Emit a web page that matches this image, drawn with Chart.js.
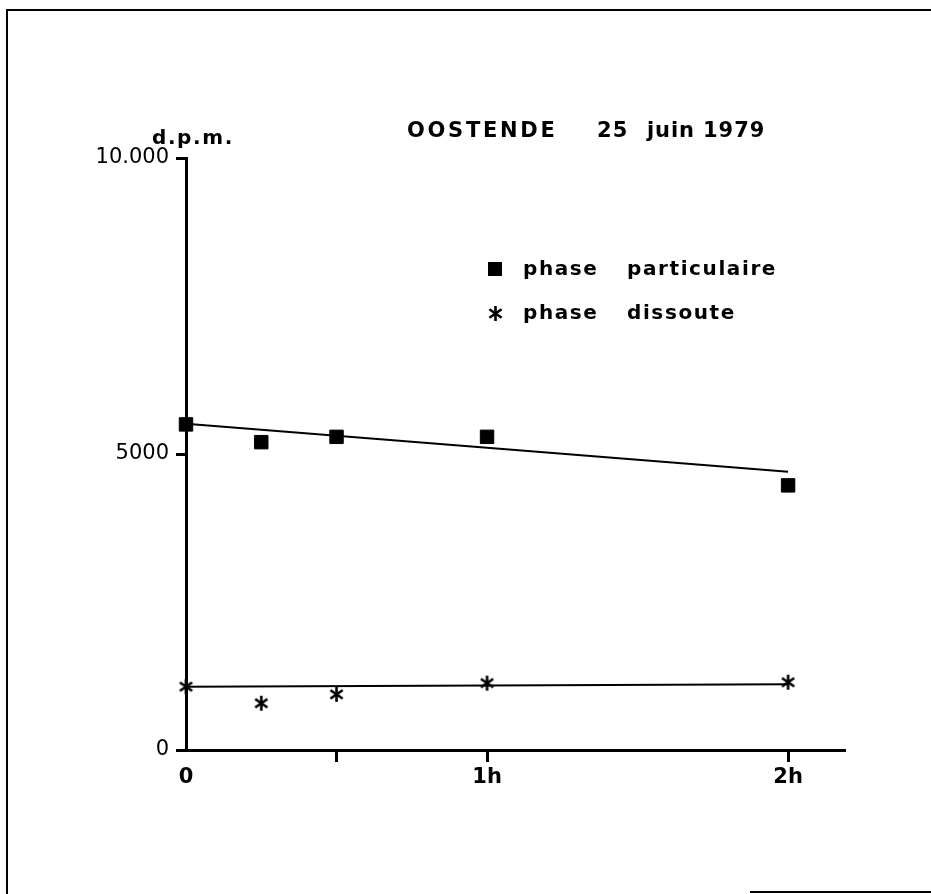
<!DOCTYPE html>
<html lang="fr">
<head>
<meta charset="utf-8">
<title>OOSTENDE 25 juin 1979</title>
<script src="https://cdn.jsdelivr.net/npm/chart.js@4.4.1/dist/chart.umd.min.js"></script>
<style>
  html, body { margin: 0; padding: 0; background: #fff; }
  #wrap { position: relative; width: 931px; height: 894px; overflow: hidden; }
  #chart { position: absolute; left: 0; top: 0; }
  .txt {
    position: absolute; white-space: pre; line-height: 1;
    font-family: "DejaVu Sans", sans-serif; font-weight: bold; color: #000;
  }
  .title  { font-size: 21px; top: 120px; }
  .unit   { font-size: 20px; letter-spacing: 1.6px; top: 127px; left: 152px; }
  .leg    { font-size: 20px; letter-spacing: 1.6px; }
  .frame  { position: absolute; background: #000; }
  .swatch { position: absolute; width: 14px; height: 14px; background: #000; }
</style>
</head>
<body>
<div id="wrap">
  <canvas id="chart" width="931" height="894"></canvas>

  <!-- frame of the scanned figure -->
  <div class="frame" style="left:6px; top:9px; width:2px; height:885px;"></div>
  <div class="frame" style="left:6px; top:9px; width:925px; height:2px;"></div>
  <div class="frame" style="left:750px; top:891px; width:181px; height:2px;"></div>

  <div class="txt title" style="left:407px; letter-spacing:2.7px;">OOSTENDE</div>
  <div class="txt title" style="left:597px; letter-spacing:1.2px;">25</div>
  <div class="txt title" style="left:647px; letter-spacing:0.9px;">juin 1979</div>
  <div class="txt unit">d.p.m.</div>

  <!-- legend -->
  <div class="swatch" style="left:488px; top:262px;"></div>
  <div class="txt leg" style="left:523px; top:258px;">phase</div>
  <div class="txt leg" style="left:627px; top:258px;">particulaire</div>
  <div id="legStar" style="position:absolute; left:487px; top:305px;"></div>
  <div class="txt leg" style="left:523px; top:302px;">phase</div>
  <div class="txt leg" style="left:627px; top:302px;">dissoute</div>
</div>

<script>
"use strict";

// ── Data ──────────────────────────────────────────────────
const hours          = [0, 0.25, 0.5, 1, 2];
const particulaire   = [5500, 5200, 5290, 5290, 4470];
const dissoute       = [1070, 790, 940, 1130, 1145];

const fitHours        = [0, 2];
const fitParticulaire = [5510, 4700];
const fitDissoute     = [1070, 1110];

const xTickValues = [0, 0.5, 1, 2];
const xTickLabels = ["0", "", "1h", "2h"];
const yTickValues = [0, 5000, 10000];
const yTickLabels = ["0", "5000", "10.000"];

const pts = (xs, ys) => xs.map((x, i) => ({ x: x, y: ys[i] }));

// ── Asterisk marker (6 arms) ──────────────────────────────
function makeAsterisk(size, lw) {
  const c = document.createElement("canvas");
  c.width = c.height = size;
  const g = c.getContext("2d");
  const m = size / 2, r = size / 2 - 1;
  g.strokeStyle = "#000";
  g.lineWidth = lw;
  [90, 35, 145].forEach(a => {
    const t = a * Math.PI / 180;
    g.beginPath();
    g.moveTo(m + r * Math.cos(t), m - r * Math.sin(t));
    g.lineTo(m - r * Math.cos(t), m + r * Math.sin(t));
    g.stroke();
  });
  return c;
}

const starMarker = makeAsterisk(17, 2.6);
document.getElementById("legStar").appendChild(makeAsterisk(17, 2.6));

// ── Chart ─────────────────────────────────────────────────
const ctx = document.getElementById("chart").getContext("2d");

new Chart(ctx, {
  type: "scatter",
  data: {
    datasets: [
      {
        label: "droite particulaire",
        data: pts(fitHours, fitParticulaire),
        showLine: true,
        borderColor: "#000",
        borderWidth: 2,
        pointRadius: 0,
        clip: false,
      },
      {
        label: "droite dissoute",
        data: pts(fitHours, fitDissoute),
        showLine: true,
        borderColor: "#000",
        borderWidth: 2,
        pointRadius: 0,
        clip: false,
      },
      {
        label: "phase particulaire",
        data: pts(hours, particulaire),
        pointStyle: "rect",
        pointRadius: 9.5,
        backgroundColor: "#000",
        borderColor: "#000",
        borderWidth: 1,
        clip: false,
      },
      {
        label: "phase dissoute",
        data: pts(hours, dissoute),
        pointStyle: starMarker,
        pointRadius: 9,
        clip: false,
      },
    ],
  },
  options: {
    responsive: false,
    animation: false,
    layout: { padding: { left: 0, right: 86, top: 158, bottom: 144 } },
    plugins: { legend: { display: false }, tooltip: { enabled: false } },
    scales: {
      x: {
        type: "linear",
        position: { y: 0 },
        min: 0,
        max: 2.189,
        afterBuildTicks: s => { s.ticks = xTickValues.map(v => ({ value: v })); },
        border: { display: true, color: "#000", width: 3 },
        grid: {
          drawOnChartArea: false,
          tickLength: 10,
          tickWidth: 3,
          tickColor: c => (c.tick && c.tick.value === 0) ? "rgba(0,0,0,0)" : "#000",
        },
        ticks: {
          color: "#000",
          padding: 5,
          maxRotation: 0,
          font: { family: "DejaVu Sans", size: 21, weight: "bold" },
          callback: v => xTickLabels[xTickValues.indexOf(v)] ?? "",
        },
      },
      y: {
        type: "linear",
        position: "left",
        min: 0,
        max: 10000,
        afterBuildTicks: s => { s.ticks = yTickValues.map(v => ({ value: v })); },
        afterFit: s => { s.width = 186; },
        border: { display: true, color: "#000", width: 3 },
        grid: {
          drawOnChartArea: false,
          tickLength: 10,
          tickWidth: 3,
          tickColor: "#000",
        },
        ticks: {
          color: "#000",
          padding: 7,
          font: { family: "DejaVu Sans", size: 21 },
          callback: v => yTickLabels[yTickValues.indexOf(v)] ?? "",
        },
      },
    },
  },
});
</script>
</body>
</html>
